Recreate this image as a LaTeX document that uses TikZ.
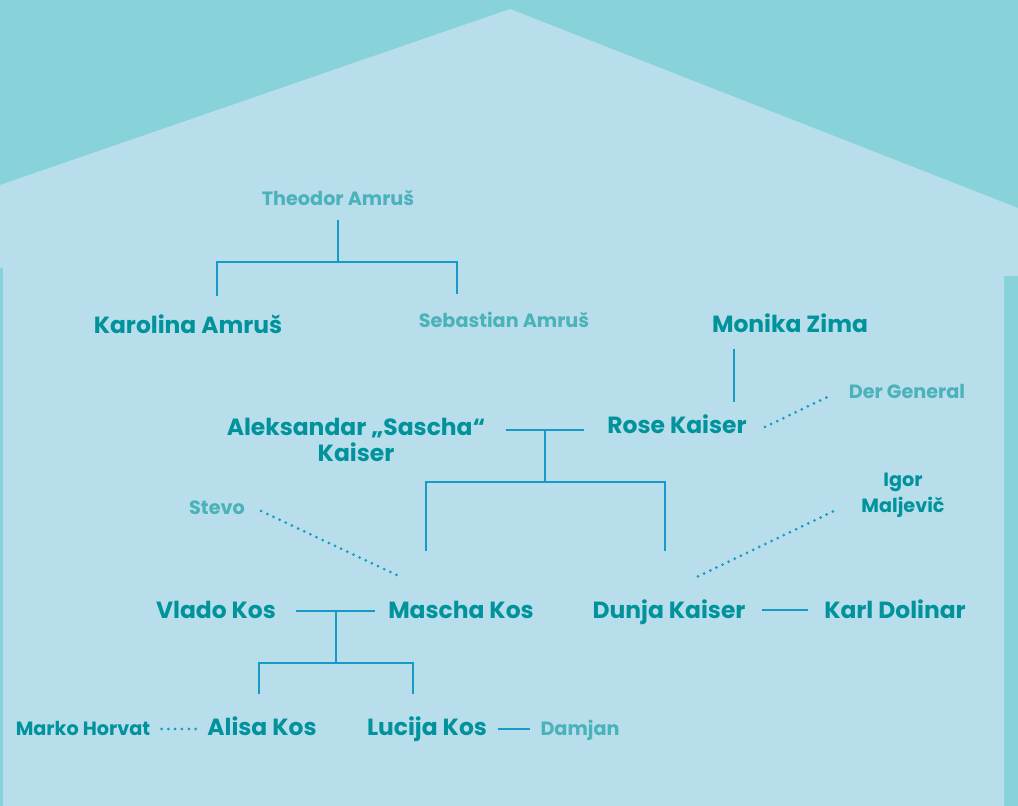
\documentclass[tikz,border=0pt]{standalone}
\usepackage{fontspec}
\setmainfont{Poppins}
\definecolor{roofteal}{RGB}{136,211,217}
\definecolor{housefill}{RGB}{184,221,235}
\definecolor{namedark}{RGB}{0,147,155}
\definecolor{namelight}{RGB}{74,178,185}
\definecolor{linkblue}{RGB}{22,154,200}
\begin{document}
\begin{tikzpicture}[x=0.5pt, y=-0.5pt,
	bigtext/.style={font=\fontsize{11.7}{13}\selectfont\bfseries, text=namedark, inner sep=0pt},
	person/.style={bigtext, text height=8.2pt, text depth=0pt},
	smalltext/.style={font=\fontsize{9.6}{13}\selectfont\bfseries, text=namedark, inner sep=0pt},
	minor/.style={smalltext, text height=6.7pt, text depth=0pt},
	faint/.style={minor, text=namelight},
	tie/.style={draw=linkblue, line width=1.1pt},
	loose/.style={draw=linkblue, line width=1.5pt, line cap=round, dash pattern=on 0pt off 3.4pt}]
		\useasboundingbox (0,0) rectangle (1018,806);
		\fill[roofteal] (0,0) rectangle (1018,806);
		\fill[housefill] (0,185) -- (510,9) -- (1018,208) -- (1018,276) -- (1004,276) -- (1004,806) -- (3,806) -- (3,268) -- (0,268) -- cycle;
		\node[faint] (ta) at (338,199) {Theodor Amruš};
		\node[person] (ka) at (188,325) {Karolina Amruš};
		\node[faint] (sa) at (504,321) {Sebastian Amruš};
		\node[person] (mz) at (790,324) {Monika Zima};
		\node[bigtext, align=center] (sk) at (356,440) {Aleksandar „Sascha“\\Kaiser};
		\node[person] (rk) at (677,425) {Rose Kaiser};
		\node[faint] (dg) at (907,392) {Der General};
		\node[faint] (st) at (217,508) {Stevo};
		\node[smalltext, align=center] (im) at (903,495) {Igor\\Maljevič};
		\node[person] (vk) at (216,610) {Vlado Kos};
		\node[person] (mk) at (461,610) {Mascha Kos};
		\node[person] (dk) at (669,610) {Dunja Kaiser};
		\node[person] (kd) at (895,610) {Karl Dolinar};
		\node[minor] (mh) at (83,729) {Marko Horvat};
		\node[person] (al) at (262,727) {Alisa Kos};
		\node[person] (lk) at (427,727) {Lucija Kos};
		\node[faint] (dj) at (580,729) {Damjan};
		\coordinate (j1) at (338,262);
		\coordinate (j1l) at (217,262);
		\coordinate (j1r) at (457,262);
		\coordinate (j2) at (734,402);
		\coordinate (m1) at (545,430);
		\coordinate (j3) at (545,482);
		\coordinate (j3l) at (426,482);
		\coordinate (j3r) at (665,482);
		\coordinate (m2) at (336,611);
		\coordinate (j4) at (336,663);
		\coordinate (j4l) at (259,663);
		\coordinate (j4r) at (413,663);
		\draw[tie, shorten <=7pt] (ta.south) -- (j1);
		\draw[tie, shorten <=10pt, shorten >=10pt] (j1l |- ka.north) -- (j1l) -- (j1r) -- (j1r |- sa.north);
		\draw[tie, shorten <=8pt] (j2 |- mz.south) -- (j2);
		\draw[tie, shorten <=10pt, shorten >=11.5pt] (m1 -| sk.east) -- (m1 -| rk.west);
		\draw[tie] (m1) -- (j3);
		\draw[tie, shorten <=25pt, shorten >=25pt] (j3l |- mk.north) -- (j3l) -- (j3r) -- (j3r |- dk.north);
		\draw[loose] ([xshift=9pt,yshift=-1pt]rk.east) -- ([xshift=-8.5pt,yshift=-1.5pt]dg.west);
		\draw[loose] ([xshift=8pt,yshift=-1.5pt]st.east) -- ([xshift=-29.5pt,yshift=12pt]mk.north);
		\draw[loose] ([xshift=14.5pt,yshift=12.5pt]dk.north) -- ([xshift=-13pt,yshift=-7.75pt]im.west);
		\draw[tie, shorten <=10pt, shorten >=6.5pt] (m2 -| vk.east) -- (m2 -| mk.west);
		\draw[tie] (m2) -- (j4);
		\draw[tie, shorten <=12pt, shorten >=12pt] (j4l |- al.north) -- (j4l) -- (j4r) -- (j4r |- lk.north);
		\draw[tie, shorten <=8pt, shorten >=8pt] (dk.east) -- (kd.west);
		\draw[loose, shorten <=5.5pt, shorten >=5pt] (mh.east) -- (mh.east -| al.west);
		\draw[tie, shorten <=5.5pt, shorten >=5pt] (dj.west -| lk.east) -- (dj.west);
	\end{tikzpicture}
\end{document}
